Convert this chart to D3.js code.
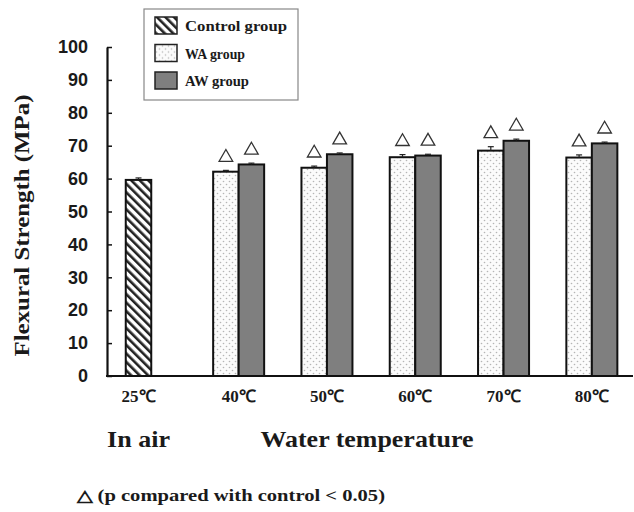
<!DOCTYPE html>
<html>
<head>
<meta charset="utf-8">
<script src="https://cdn.jsdelivr.net/npm/d3@7"></script>
<style>
  body { margin: 0; background: #fff; }
  text { fill: #1a1a1a; }
  .serif { font-family: "Liberation Serif", "Times New Roman", serif; font-weight: bold; }
  .sans { font-family: "Liberation Sans", Arial, sans-serif; font-weight: bold; }
</style>
</head>
<body>
<script>
// chart values
const airCategories = ['25\u2103'];
const waterCategories = ['40\u2103', '50\u2103', '60\u2103', '70\u2103', '80\u2103'];
const controlValues = [59.6];
const controlErrors = [0.6];
const waValues = [62.1, 63.3, 66.5, 68.5, 66.4];
const waErrors = [0.4, 0.5, 0.8, 1.2, 0.8];
const awValues = [64.3, 67.4, 67.0, 71.5, 70.7];
const awErrors = [0.4, 0.4, 0.4, 0.5, 0.4];
const waSignificant = [true, true, true, true, true];
const awSignificant = [true, true, true, true, true];
const yTicks = [0, 10, 20, 30, 40, 50, 60, 70, 80, 90, 100];
const legendLabels = ['Control group', 'WA group', 'AW group'];

const W = 634, H = 512;
const plot = { left: 107, right: 633, top: 47, bottom: 376 };

const svg = d3.select('body').append('svg')
    .attr('width', W)
    .attr('height', H);

// patterns
const defs = svg.append('defs');
const hatch = defs.append('pattern')
    .attr('id', 'hatch')
    .attr('patternUnits', 'userSpaceOnUse')
    .attr('width', 6).attr('height', 6)
    .attr('patternTransform', 'rotate(-45)');
hatch.append('rect').attr('width', 6).attr('height', 6).attr('fill', '#fff');
hatch.append('rect').attr('x', 0).attr('y', 0).attr('width', 2.6).attr('height', 6).attr('fill', '#222');

const dots = defs.append('pattern')
    .attr('id', 'dots')
    .attr('patternUnits', 'userSpaceOnUse')
    .attr('width', 6).attr('height', 6);
dots.append('rect').attr('width', 6).attr('height', 6).attr('fill', '#fbfbfb');
dots.append('circle').attr('cx', 1.5).attr('cy', 1.5).attr('r', 0.8).attr('fill', '#b5b5b5');
dots.append('circle').attr('cx', 4.5).attr('cy', 4.5).attr('r', 0.8).attr('fill', '#b5b5b5');

const fills = ['url(#hatch)', 'url(#dots)', '#7f7f7f'];

// scales
const y = d3.scaleLinear().domain([0, 100]).range([plot.bottom, plot.top]);

const xAir = d3.scaleBand().domain(airCategories).range([plot.left, 170]);
const xWater = d3.scaleBand().domain(waterCategories).range([194.5, 636]);
const barW = 25.5;
const xSeries = d3.scaleBand().domain(['WA', 'AW']).range([-barW, barW]);

const air = airCategories.map((c, i) => ({ cat: c, v: controlValues[i], e: controlErrors[i] }));
const water = [];
waterCategories.forEach((c, i) => {
    water.push({ cat: c, s: 'WA', v: waValues[i], e: waErrors[i], sig: waSignificant[i] });
    water.push({ cat: c, s: 'AW', v: awValues[i], e: awErrors[i], sig: awSignificant[i] });
});

const barX = d => xWater(d.cat) + xWater.bandwidth() / 2 + xSeries(d.s);

// control bar
svg.selectAll('.ctrl')
    .data(air)
    .enter().append('rect')
    .attr('class', 'ctrl')
    .attr('x', d => xAir(d.cat) + xAir.bandwidth() / 2 - barW / 2)
    .attr('y', d => y(d.v))
    .attr('width', barW)
    .attr('height', d => y(0) - y(d.v))
    .attr('fill', fills[0])
    .attr('stroke', '#111').attr('stroke-width', 2);

// water bars
svg.selectAll('.wbar')
    .data(water)
    .enter().append('rect')
    .attr('class', 'wbar')
    .attr('x', barX)
    .attr('y', d => y(d.v))
    .attr('width', xSeries.bandwidth())
    .attr('height', d => y(0) - y(d.v))
    .attr('fill', d => d.s === 'WA' ? fills[1] : fills[2])
    .attr('stroke', '#111').attr('stroke-width', 2);

// error bars
const errs = air.map(d => ({ cx: xAir(d.cat) + xAir.bandwidth() / 2, v: d.v, e: d.e }))
    .concat(water.map(d => ({ cx: barX(d) + xSeries.bandwidth() / 2, v: d.v, e: d.e, sig: d.sig })));
const eb = svg.append('g').attr('stroke', '#222').attr('stroke-width', 1.2);
errs.forEach(d => {
    eb.append('line').attr('x1', d.cx).attr('x2', d.cx).attr('y1', y(d.v)).attr('y2', y(d.v + d.e));
    eb.append('line').attr('x1', d.cx - 3).attr('x2', d.cx + 3).attr('y1', y(d.v + d.e)).attr('y2', y(d.v + d.e));
});

// significance triangles
svg.selectAll('.sig')
    .data(errs.filter(d => d.sig))
    .enter().append('path')
    .attr('class', 'sig')
    .attr('d', d3.symbol(d3.symbolTriangle, 80))
    .attr('transform', d => `translate(${d.cx},${y(d.v + d.e) - 13})`)
    .attr('fill', '#fff')
    .attr('stroke', '#333')
    .attr('stroke-width', 1.3);

// y axis
const yAxis = d3.axisLeft(y)
    .tickValues(yTicks)
    .tickSizeInner(-5)
    .tickSizeOuter(0)
    .tickPadding(19);
const yg = svg.append('g')
    .attr('transform', `translate(${plot.left},0)`)
    .call(yAxis);
yg.select('.domain').attr('stroke', '#111').attr('stroke-width', 2.2);
yg.selectAll('.tick line').attr('stroke', '#111').attr('stroke-width', 1.5);
yg.selectAll('.tick text').attr('class', 'sans').attr('font-size', 18).attr('fill', '#222');

// x baseline
svg.append('line')
    .attr('x1', plot.left - 1).attr('x2', plot.right)
    .attr('y1', plot.bottom).attr('y2', plot.bottom)
    .attr('stroke', '#111').attr('stroke-width', 2.2);

// x tick labels
[xAir, xWater].forEach(sc => {
    const g = svg.append('g')
        .attr('transform', `translate(0,${plot.bottom})`)
        .call(d3.axisBottom(sc).tickSize(0).tickPadding(14));
    g.select('.domain').remove();
    g.selectAll('.tick text').attr('class', 'serif').attr('font-size', 17).attr('fill', '#222');
});

// group labels
svg.append('text').attr('class', 'serif')
    .attr('x', xAir(airCategories[0]) + xAir.bandwidth() / 2).attr('y', 447)
    .attr('text-anchor', 'middle').attr('font-size', 23)
    .attr('textLength', 63).attr('lengthAdjust', 'spacingAndGlyphs')
    .text('In air');
svg.append('text').attr('class', 'serif')
    .attr('x', 367).attr('y', 447)
    .attr('text-anchor', 'middle').attr('font-size', 23)
    .attr('textLength', 213).attr('lengthAdjust', 'spacingAndGlyphs')
    .text('Water temperature');

// y label
svg.append('text').attr('class', 'serif')
    .attr('transform', `translate(29,${(plot.top + plot.bottom) / 2 + 14}) rotate(-90)`)
    .attr('text-anchor', 'middle').attr('font-size', 21)
    .attr('textLength', 262).attr('lengthAdjust', 'spacingAndGlyphs')
    .text('Flexural Strength (MPa)');

// footnote
svg.append('text').attr('class', 'serif')
    .attr('x', 77).attr('y', 501)
    .attr('font-size', 16)
    .attr('textLength', 308).attr('lengthAdjust', 'spacingAndGlyphs')
    .text('\u25B3 (p compared with control < 0.05)');

// legend
const lg = svg.append('g').attr('transform', 'translate(144,9)');
lg.append('rect')
    .attr('width', 154).attr('height', 91)
    .attr('fill', '#fff').attr('stroke', '#888').attr('stroke-width', 1.2);
const items = lg.selectAll('.item')
    .data(legendLabels)
    .enter().append('g')
    .attr('transform', (d, i) => `translate(11,${8 + i * 27.5})`);
items.append('rect')
    .attr('width', 22).attr('height', 17)
    .attr('fill', (d, i) => fills[i])
    .attr('stroke', '#222').attr('stroke-width', 1.5);
items.append('text').attr('class', 'serif')
    .attr('x', 30).attr('y', 14)
    .attr('font-size', 15)
    .attr('textLength', (d, i) => [102, 60, 64][i]).attr('lengthAdjust', 'spacingAndGlyphs')
    .text(d => d);
</script>
</body>
</html>
